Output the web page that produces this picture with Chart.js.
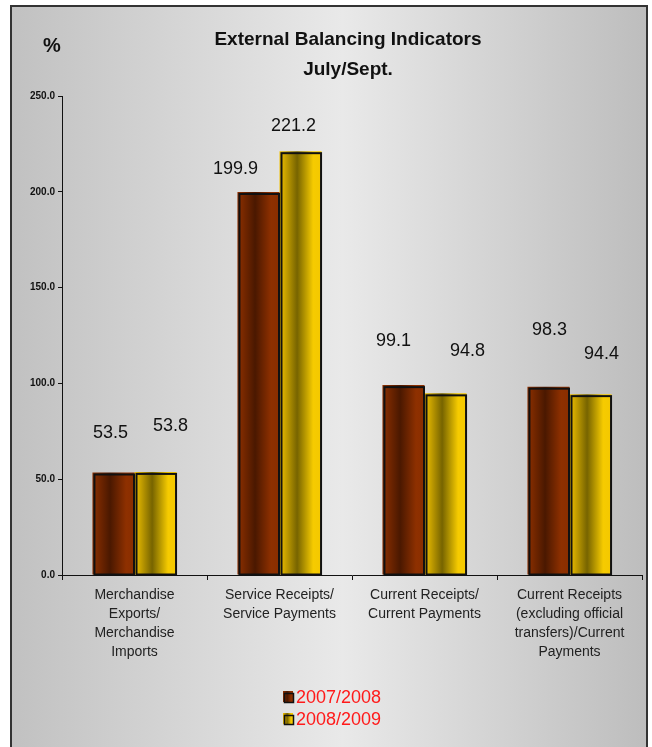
<!DOCTYPE html>
<html>
<head>
<meta charset="utf-8">
<script src="https://cdn.jsdelivr.net/npm/chart.js@4/dist/chart.umd.min.js"></script>
<style>
  html, body { margin: 0; padding: 0; background: #fff; }
  #wrap { width: 652px; height: 747px; position: relative; }
</style>
</head>
<body>
<div id="wrap"><canvas id="balance-chart" width="652" height="747"></canvas></div>
<script>
const categories = [
  ["Merchandise", "Exports/", "Merchandise", "Imports"],
  ["Service Receipts/", "Service Payments"],
  ["Current Receipts/", "Current Payments"],
  ["Current Receipts", "(excluding official", "transfers)/Current", "Payments"],
];
const seriesNames = ["2007/2008", "2008/2009"];
const values0708 = [53.5, 199.9, 99.1, 98.3];
const values0809 = [53.8, 221.2, 94.8, 94.4];
const yTicks = [0, 50, 100, 150, 200, 250];

// hand-placed value labels, offset from the top centre of each bar
const labelShift = [
  [[-3, -39], [-23, -23], [-10, -44], [1, -57]],
  [[15, -46], [-7, -25], [22, -42], [11, -40]],
];

const shades = [
  ["#8e3000", "#4a1800", "#8e3000", "#8a2e00"],
  ["#f2c200", "#776400", "#f6cb00", "#f4c800"],
];
const CAT_PCT = 0.58;
const FONT = "'Liberation Sans', Arial, sans-serif";

function shadeStops(grad, s) {
  grad.addColorStop(0, s[0]);
  grad.addColorStop(0.42, s[1]);
  grad.addColorStop(0.8, s[2]);
  grad.addColorStop(1, s[3]);
  return grad;
}

function barFill(ctx) {
  const s = shades[ctx.datasetIndex];
  const chart = ctx.chart;
  const xs = chart.scales.x;
  if (!xs || ctx.type !== "data" || !chart.chartArea) return s[0];
  const barW = (xs.width / categories.length) * CAT_PCT / 2;
  const left = xs.getPixelForValue(ctx.dataIndex) + (ctx.datasetIndex - 1) * barW;
  return shadeStops(chart.ctx.createLinearGradient(left, 0, left + barW, 0), s);
}

const backdrop = {
  id: "backdrop",
  beforeDraw(chart) {
    const c = chart.ctx;
    c.save();
    c.fillStyle = "#fff";
    c.fillRect(0, 0, chart.width, chart.height);
    const g = c.createLinearGradient(11, 0, 648, 0);
    g.addColorStop(0, "#c1c1c1");
    g.addColorStop(0.52, "#e9e9e9");
    g.addColorStop(1, "#bdbdbd");
    c.fillStyle = g;
    c.fillRect(11, 6, 637, chart.height);
    c.strokeStyle = "#333";
    c.lineWidth = 2;
    c.strokeRect(11, 6, 636, chart.height + 10);

    c.fillStyle = "#111";
    c.textAlign = "center";
    c.textBaseline = "middle";
    c.font = "bold 19px " + FONT;
    c.fillText("External Balancing Indicators", 348, 40);
    c.fillText("July/Sept.", 348, 70);
    c.font = "bold 20px " + FONT;
    c.fillText("%", 52, 46);
    c.restore();
  },
};

const barTrim = {
  id: "barTrim",
  afterDatasetsDraw(chart) {
    const c = chart.ctx;
    c.save();
    c.strokeStyle = "#111";
    c.lineWidth = 2;
    c.fillStyle = "#111";
    c.font = "18px " + FONT;
    c.textAlign = "center";
    c.textBaseline = "middle";
    chart.data.datasets.forEach((ds, di) => {
      chart.getDatasetMeta(di).data.forEach((bar, i) => {
        const { x, y, base, width } = bar.getProps(["x", "y", "base", "width"], true);
        c.strokeRect(x - width / 2 + 2, y + 2, width - 2.5, base - y - 2);
        const [dx, dy] = labelShift[di][i];
        c.fillText(ds.data[i].toFixed(1), x + dx, y + dy);
      });
    });
    c.restore();
  },
};

const sideLegend = {
  id: "sideLegend",
  afterDraw(chart) {
    const c = chart.ctx;
    c.save();
    c.font = "18px " + FONT;
    c.textBaseline = "middle";
    chart.data.datasets.forEach((ds, di) => {
      const cy = 698 + di * 22;
      const g = c.createLinearGradient(283, 0, 293, 0);
      c.fillStyle = shadeStops(g, shades[di]);
      c.fillRect(283, cy - 7, 10, 11);
      c.strokeStyle = "#111";
      c.lineWidth = 1.5;
      c.strokeRect(284.5, cy - 4.5, 9, 9);
      c.fillStyle = "#ff1a1a";
      c.fillText(ds.label, 296, cy);
    });
    c.restore();
  },
};

new Chart(document.getElementById("balance-chart"), {
  type: "bar",
  data: {
    labels: categories,
    datasets: [
      { label: seriesNames[0], data: values0708, backgroundColor: barFill, borderWidth: 0 },
      { label: seriesNames[1], data: values0809, backgroundColor: barFill, borderWidth: 0 },
    ],
  },
  options: {
    responsive: false,
    animation: false,
    events: [],
    layout: { padding: { top: 96, right: 10, left: 0, bottom: 0 } },
    datasets: { bar: { categoryPercentage: CAT_PCT, barPercentage: 1 } },
    plugins: { legend: { display: false }, tooltip: { enabled: false } },
    scales: {
      x: {
        offset: true,
        afterFit(scale) { scale.height = 747 - 575; },
        border: { display: true, color: "#111", width: 1 },
        grid: { display: true, offset: true, drawOnChartArea: false, tickLength: 5, color: "#111" },
        ticks: {
          color: "#222",
          padding: 6,
          maxRotation: 0,
          autoSkip: false,
          font: { family: FONT, size: 14, lineHeight: 1.36 },
        },
      },
      y: {
        min: 0,
        max: 250,
        afterFit(scale) { scale.width = 62; },
        afterBuildTicks(scale) { scale.ticks = yTicks.map((v) => ({ value: v })); },
        border: { display: true, color: "#111", width: 1 },
        grid: { display: true, drawOnChartArea: false, tickLength: 4, color: "#111" },
        ticks: {
          color: "#111",
          padding: 3,
          font: { family: FONT, size: 10, weight: "bold" },
          callback: (v) => Number(v).toFixed(1),
        },
      },
    },
  },
  plugins: [backdrop, barTrim, sideLegend],
});
</script>
</body>
</html>
